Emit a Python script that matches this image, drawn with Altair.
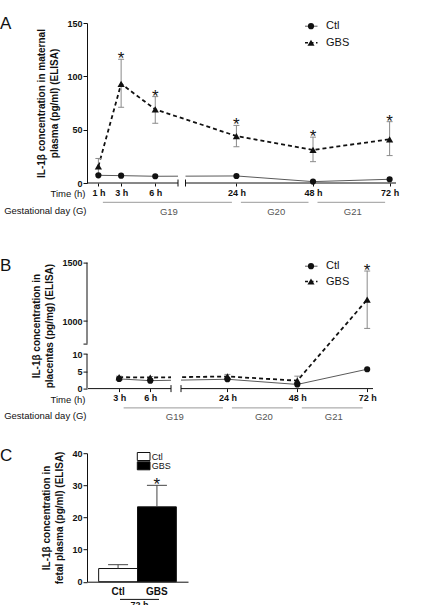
import altair as alt
import numpy as np
import pandas as pd

FONT = "Liberation Sans"
INK = "#111111"
ERR = "#8a8a8a"
CTL_LINE = "#5a5a5a"
DAY_RULE = "#9a9a9a"
DAY_TEXT = "#555555"

# ---------------- data ----------------
# A: IL-1β in maternal plasma (pg/ml), mean with SEM range for GBS
a_hours = [1, 3, 6, 24, 48, 72]
a_ctl = [7.2, 6.9, 6.3, 6.6, 1.3, 3.5]
a_gbs = [15.7, 93, 69, 44, 31, 41]
a_gbs_low = [8, 71, 56, 34, 20, 25.7]
a_gbs_high = [23, 116, 81, 54, 43, 57.5]
a_starred = [3, 6, 24, 48, 72]

# B: IL-1β in placentas (pg/mg)
b_hours = [3, 6, 24, 48, 72]
b_ctl = [2.8, 2.3, 2.7, 1.2, 5.6]
b_gbs = [3.3, 3.2, 3.5, 2.3, 1183]
b_gbs_low = [3.0, 2.9, 3.0, 1.4, 937]
b_gbs_high = [3.6, 3.5, 4.1, 3.6, 1428]
b_starred = [72]

# C: IL-1β in fetal plasma at 72 h (pg/ml)
c_groups = ["Ctl", "GBS"]
c_means = [4.1, 23.3]
c_high = [5.3, 30.0]
c_starred = ["GBS"]

# gestational days and the hour at which each one ends
days = ["G19", "G20", "G21"]
day_end_hours = [24, 48, 72]

# ---------------- broken time axis ----------------
# early hours get a stretched segment, later hours a compressed one
BREAK = (8, 8.05)
T_END = 74
T_KNOTS = [0, BREAK[0], BREAK[1], T_END]


def hours_to_px(h, rng):
    return float(np.interp(h, T_KNOTS, rng))


def px_to_hours(p, rng):
    return float(np.interp(p, rng, T_KNOTS))


def label_text(size=9, weight="normal", **kw):
    return dict(font=FONT, fontSize=size, fontWeight=weight, color=INK, **kw)


def line_panel(letter, hours, ctl, gbs, low, high, starred, *, width, height,
               x_range, y_domain, y_range, y_ticks, y_hidden, y_title,
               y_segments, mask, letter_y, legend_y):
    xs = alt.Scale(domain=T_KNOTS, range=x_range, nice=False, zero=False)
    ys = alt.Scale(domain=y_domain, range=y_range, nice=False, zero=False)
    bottom = y_range[0]

    x_axis = alt.Axis(
        values=hours, labelExpr="datum.value + ' h'", domain=False, grid=False,
        ticks=True, tickSize=3, tickColor=INK, labelFont=FONT, labelFontSize=9,
        labelFontWeight="bold", labelColor=INK, labelPadding=2,
        labelOverlap=False, title="Time (h)", titleFont=FONT, titleFontSize=9.5,
        titleFontWeight="normal", titleColor=INK, titleAngle=0,
        titleAlign="right", titleBaseline="middle", titleX=-2, titleY=10.5)
    hidden = " || ".join(f"datum.value == {v}" for v in y_hidden) or "false"
    y_axis = alt.Axis(
        values=y_ticks, labelExpr=f"({hidden}) ? '' : '' + datum.value",
        domain=y_segments is None, domainColor=INK, grid=False, tickSize=4,
        tickColor=INK, labelFont=FONT, labelFontSize=9, labelFontWeight="bold",
        labelColor=INK, labelPadding=1, title=y_title, titleFont=FONT,
        titleFontSize=10, titleFontWeight="bold", titleColor=INK,
        titlePadding=7, titleLineHeight=13)

    def X(field):
        return alt.X(field, scale=xs, axis=x_axis)

    def Y(field):
        return alt.Y(field, scale=ys, axis=y_axis)

    pts = pd.DataFrame({"hour": hours, "ctl": ctl, "gbs": gbs,
                        "low": low, "high": high})
    base = alt.Chart(pts)
    layers = []

    # gestational-day brackets under the time axis
    rows = []
    for i, name in enumerate(days):
        start = hours[0] if i == 0 else day_end_hours[i - 1]
        end = day_end_hours[i]
        p0 = hours_to_px(start, x_range) + 4.5
        p1 = hours_to_px(end, x_range) - 4.5
        rows.append({"day": name, "start": start, "end": end,
                     "mid": px_to_hours((p0 + p1) / 2 + 1.5, x_range)})
    day_df = pd.DataFrame(rows)
    layers.append(alt.Chart(day_df).mark_rule(
        color=DAY_RULE, strokeWidth=1, xOffset=4.5, x2Offset=-4.5).encode(
        x=X("start:Q"), x2="end:Q", y=alt.value(bottom + 19.3)))
    layers.append(alt.Chart(day_df).mark_text(
        baseline="middle", align="center", **label_text(9.5)).encode(
        x=X("mid:Q"), y=alt.value(bottom + 28.5),
        text="day:N", color=alt.value(DAY_TEXT)))
    layers.append(alt.Chart(pd.DataFrame({"t": ["Gestational day (G)"]})).mark_text(
        align="right", baseline="middle", **label_text(9.5)).encode(
        x=alt.value(-0.5), y=alt.value(bottom + 27.5), text="t:N"))

    # broken x axis line with end ticks at the break
    seg_df = pd.DataFrame({"start": [0, BREAK[1]], "end": [BREAK[0], T_END]})
    layers.append(alt.Chart(seg_df).mark_rule(color=INK, strokeWidth=1).encode(
        x=X("start:Q"), x2="end:Q", y=alt.value(bottom)))

    # broken y axis line
    if y_segments is not None:
        yseg = pd.DataFrame({"lo": [s[0] for s in y_segments],
                             "hi": [s[1] for s in y_segments]})
        layers.append(alt.Chart(yseg).mark_rule(color=INK, strokeWidth=1).encode(
            x=alt.value(0), y=Y("lo:Q"), y2="hi:Q"))

    # series lines
    layers.append(base.mark_line(color=CTL_LINE, strokeWidth=1).encode(
        x=X("hour:Q"), y=Y("ctl:Q")))
    layers.append(base.mark_line(color=INK, strokeWidth=1.8, strokeDash=[4, 3]).encode(
        x=X("hour:Q"), y=Y("gbs:Q")))

    # error bars for GBS
    layers.append(base.mark_rule(color=ERR, strokeWidth=1).encode(
        x=X("hour:Q"), y=Y("low:Q"), y2="high:Q"))
    caps = pd.DataFrame({"hour": hours * 2, "v": list(low) + list(high)})
    layers.append(alt.Chart(caps).mark_tick(
        color=ERR, thickness=1, size=6, orient="horizontal", opacity=1).encode(
        x=X("hour:Q"), y=Y("v:Q")))

    # gap in the lines where the time axis is broken
    mask_df = pd.DataFrame({"a": [BREAK[0]], "b": [BREAK[1]],
                            "lo": [mask[0]], "hi": [mask[1]]})
    layers.append(alt.Chart(mask_df).mark_rect(color="white").encode(
        x=X("a:Q"), x2="b:Q", y=Y("lo:Q"), y2="hi:Q"))
    brk = pd.DataFrame({"h": list(BREAK)})
    layers.append(alt.Chart(brk).mark_rule(color=INK, strokeWidth=1).encode(
        x=X("h:Q"), y=alt.value(bottom - 3.5), y2=alt.value(bottom + 3.5)))

    # markers
    layers.append(base.mark_point(shape="circle", filled=True, size=38,
                                  color=INK, opacity=1).encode(
        x=X("hour:Q"), y=Y("ctl:Q")))
    layers.append(base.mark_point(shape="triangle-up", filled=True, size=52,
                                  color=INK, opacity=1).encode(
        x=X("hour:Q"), y=Y("gbs:Q")))

    # significance stars above the error bars
    stars = pts[pts["hour"].isin(starred)]
    layers.append(alt.Chart(stars).mark_text(
        text="*", baseline="alphabetic", dy=5.0, **label_text(17)).encode(
        x=X("hour:Q"), y=Y("high:Q")))

    # legend
    one = pd.DataFrame({"k": [0]})
    for i, (name, shape, dash, col, sw) in enumerate([
            ("Ctl", "circle", [1, 0], CTL_LINE, 1),
            ("GBS", "triangle-up", [3, 2.5], INK, 1.6)]):
        ly = legend_y[i]
        layers.append(alt.Chart(one).mark_rule(
            color=col, strokeWidth=sw, strokeDash=dash).encode(
            x=alt.value(218), x2=alt.value(230.5), y=alt.value(ly)))
        layers.append(alt.Chart(one).mark_point(
            shape=shape, filled=True, size=38 if shape == "circle" else 50,
            color=INK, opacity=1).encode(x=alt.value(224), y=alt.value(ly)))
        layers.append(alt.Chart(pd.DataFrame({"t": [name]})).mark_text(
            align="left", baseline="middle", **label_text(11)).encode(
            x=alt.value(239), y=alt.value(ly), text="t:N"))

    # panel letter
    layers.append(alt.Chart(pd.DataFrame({"t": [letter]})).mark_text(
        align="left", baseline="alphabetic", **label_text(17)).encode(
        x=alt.value(-87), y=alt.value(letter_y), text="t:N"))

    return alt.layer(*layers).properties(width=width, height=height)


panel_a = line_panel(
    "A", a_hours, a_ctl, a_gbs, a_gbs_low, a_gbs_high, a_starred,
    width=310, height=160, x_range=[0, 91, 98.5, 309],
    y_domain=[0, 150], y_range=[160, 0], y_ticks=[0, 50, 100, 150],
    y_hidden=[], y_title=["IL-1β concentration in maternal",
                          "plasma (pg/ml) (ELISA)"],
    y_segments=None, mask=[2, 12], letter_y=5.5, legend_y=[3.2, 19.8])

panel_b = line_panel(
    "B", b_hours, b_ctl, b_gbs, b_gbs_low, b_gbs_high, b_starred,
    width=286, height=141, x_range=[1, 84, 94, 286],
    y_domain=[0, 10, 807, 1500], y_range=[141, 106.4, 96, 15],
    y_ticks=[0, 5, 10, 807, 1000, 1500], y_hidden=[807],
    y_title=["IL-1β concentration in", "placentas (pg/mg) (ELISA)"],
    y_segments=[(0, 10), (807, 1500)], mask=[0.9, 6.5], letter_y=22.9,
    legend_y=[18.6, 33.9])

# ---------------- panel C: bars at 72 h ----------------
c_df = pd.DataFrame({"group": c_groups, "mean": c_means, "high": c_high})
c_h = 128.5
cx = alt.Scale(domain=c_groups, paddingInner=0, paddingOuter=0.3)
cy = alt.Scale(domain=[0, 40], nice=False, zero=True)
cx_axis = alt.Axis(
    domain=True, domainColor=INK, ticks=False, tickSize=0, labelAngle=0,
    labelFont=FONT, labelFontSize=10, labelFontWeight="bold",
    labelColor=INK, labelPadding=5, title=None, grid=False)
cy_axis = alt.Axis(
    values=[0, 10, 20, 30, 40], domain=True, domainColor=INK, grid=False,
    tickSize=4, tickColor=INK, labelFont=FONT, labelFontSize=9,
    labelFontWeight="bold", labelColor=INK, labelPadding=1,
    title=["IL-1β concentration in", "fetal plasma  (pg/ml) (ELISA)"],
    titleFont=FONT, titleFontSize=10, titleFontWeight="bold",
    titleColor=INK, titlePadding=7, titleLineHeight=13)
CX = alt.X("group:N", scale=cx, axis=cx_axis)


def CY(field):
    return alt.Y(field, scale=cy, axis=cy_axis)


bars = alt.Chart(c_df).mark_bar(stroke=INK, strokeWidth=1).encode(
    x=CX, y=CY("mean:Q"),
    fill=alt.Fill("group:N", scale=alt.Scale(domain=c_groups,
                                             range=["white", "black"]),
                  legend=None))
c_err = alt.Chart(c_df).mark_rule(color="#444444", strokeWidth=1).encode(
    x=CX, y=CY("mean:Q"), y2="high:Q")
c_cap = alt.Chart(c_df).mark_tick(color="#444444", thickness=1, size=20,
                                  orient="horizontal", opacity=1).encode(
    x=CX, y=CY("high:Q"))
c_star = alt.Chart(c_df[c_df["group"].isin(c_starred)]).mark_text(
    text="*", baseline="alphabetic", dy=4.5, **label_text(17)).encode(
    x=CX, y=CY("high:Q"))

one = pd.DataFrame({"k": [0]})
c_legend = []
for name, fill, y0 in [("Ctl", "white", -0.7), ("GBS", "black", 8.6)]:
    c_legend.append(alt.Chart(one).mark_rect(fill=fill, stroke=INK,
                                             strokeWidth=1).encode(
        x=alt.value(50.3), x2=alt.value(63), y=alt.value(y0), y2=alt.value(y0 + 8)))
    c_legend.append(alt.Chart(pd.DataFrame({"t": [name]})).mark_text(
        align="left", baseline="middle", **label_text(9)).encode(
        x=alt.value(64.7), y=alt.value(y0 + 4), text="t:N"))

c_extra = [
    alt.Chart(one).mark_rule(color=INK, strokeWidth=1).encode(
        x=alt.value(33), x2=alt.value(72), y=alt.value(c_h + 17.7)),
    alt.Chart(pd.DataFrame({"t": ["72 h"]})).mark_text(
        align="center", baseline="top", **label_text(9, "bold")).encode(
        x=alt.value(52.5), y=alt.value(c_h + 19.5), text="t:N"),
    alt.Chart(pd.DataFrame({"t": ["C"]})).mark_text(
        align="left", baseline="alphabetic", **label_text(17)).encode(
        x=alt.value(-87), y=alt.value(7.8), text="t:N"),
]

panel_c = alt.layer(bars, c_err, c_cap, c_star, *c_legend, *c_extra).properties(
    width=101, height=c_h)

chart = alt.vconcat(
    panel_a, panel_b, panel_c, spacing=64.6, bounds="flush"
).resolve_scale(
    x="independent", y="independent", fill="independent"
).properties(
    padding={"left": 0, "top": 14, "right": 4, "bottom": 0},
    background="white",
).configure_view(stroke=None)

chart.save("out.html", embed_options={"renderer": "svg", "actions": False})
